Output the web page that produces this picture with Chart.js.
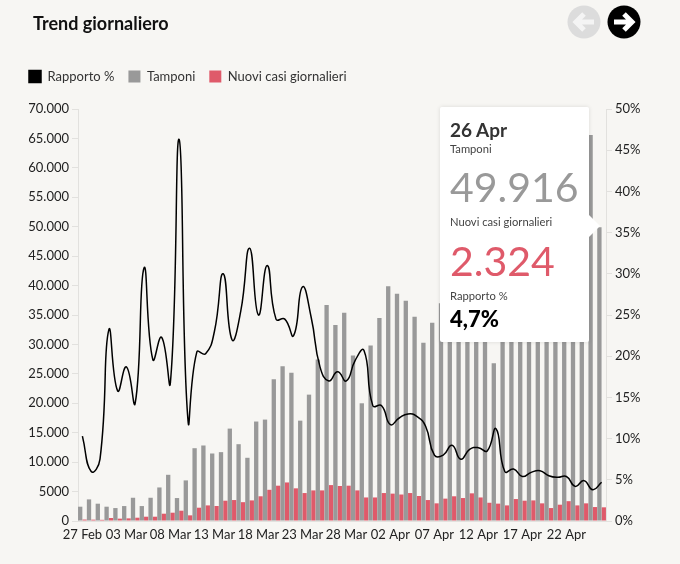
<!DOCTYPE html>
<html lang="it">
<head>
<meta charset="utf-8">
<title>Trend giornaliero</title>
<script src="https://cdn.jsdelivr.net/npm/chart.js@4"></script>
<style>
  html, body { margin: 0; padding: 0; background: #f7f6f3; }
  body { width: 680px; height: 564px; position: relative; overflow: hidden; font-family: Lato, "Noto Sans", sans-serif; color: #222; }
  canvas { position: absolute; left: 0; top: 0; }
  h1 { position: absolute; left: 33px; top: 12px; margin: 0; font-size: 18px; line-height: 22px; font-weight: 700; color: #111; }
  .btn { position: absolute; top: 5px; }
  #tip { position: absolute; left: 440px; top: 107px; width: 149px; height: 235px; background: #fff; border-radius: 2px; box-shadow: 0 0 4px rgba(0,0,0,.12); }
  #tip::after { content: ""; position: absolute; left: 149px; top: 108px; border-left: 11px solid #fff; border-top: 11px solid transparent; border-bottom: 11px solid transparent; }
  #tip div { position: absolute; left: 10px; white-space: nowrap; }
  .small { font-size: 11.2px; line-height: 14px; color: #444; }
</style>
</head>
<body>
<canvas id="chart" width="680" height="564"></canvas>
<h1>Trend giornaliero</h1>
<svg class="btn" style="left:567px" width="34" height="34" viewBox="0 0 34 34">
  <circle cx="17" cy="17" r="16.5" fill="#dcdcdc"/>
  <path d="M27 17H11M17 9l-8 8 8 8" fill="none" stroke="#f4f4f4" stroke-width="5"/>
</svg>
<svg class="btn" style="left:607px" width="34" height="34" viewBox="0 0 34 34">
  <circle cx="17" cy="17" r="16.5" fill="#000"/>
  <path d="M7 17h16M17 9l8 8-8 8" fill="none" stroke="#fff" stroke-width="5"/>
</svg>
<div id="tip">
  <div id="tipDate" style="top:12px;font-size:19px;line-height:22px;font-weight:700;color:#333"></div>
  <div class="small" style="top:35px">Tamponi</div>
  <div id="tipTamponi" style="top:53px;font-size:41px;line-height:54px;font-weight:400;color:#999"></div>
  <div class="small" style="top:108px">Nuovi casi giornalieri</div>
  <div id="tipCasi" style="top:127px;font-size:41px;line-height:54px;font-weight:400;color:#df5a6a"></div>
  <div class="small" style="top:182px">Rapporto %</div>
  <div id="tipRapporto" style="top:199px;font-size:22px;line-height:26px;font-weight:900;color:#000"></div>
</div>
<script>
// date sull'asse x
const dates = ["27 Feb","28 Feb","29 Feb","01 Mar","02 Mar","03 Mar","04 Mar","05 Mar","06 Mar","07 Mar",
  "08 Mar","09 Mar","10 Mar","11 Mar","12 Mar","13 Mar","14 Mar","15 Mar","16 Mar","17 Mar",
  "18 Mar","19 Mar","20 Mar","21 Mar","22 Mar","23 Mar","24 Mar","25 Mar","26 Mar","27 Mar",
  "28 Mar","29 Mar","30 Mar","31 Mar","01 Apr","02 Apr","03 Apr","04 Apr","05 Apr","06 Apr",
  "07 Apr","08 Apr","09 Apr","10 Apr","11 Apr","12 Apr","13 Apr","14 Apr","15 Apr","16 Apr",
  "17 Apr","18 Apr","19 Apr","20 Apr","21 Apr","22 Apr","23 Apr","24 Apr","25 Apr","26 Apr"];

// valori (quelli sotto il riquadro bianco sono stimati)
const tamponi = [2430,3670,2940,2430,2200,2540,3950,2540,3950,5700,
  7850,3900,6900,12370,12830,11470,11700,15700,13050,10740,
  16900,17230,24100,26300,25200,17050,21470,27460,36700,33300,
  35400,28100,20000,29800,34500,39900,38600,37400,34700,30300,
  33700,37000,53000,46000,53500,56600,46700,26800,43700,61000,
  65700,64000,65400,63100,49000,47000,63100,52000,65600,49916];
const nuoviCasi = [250,230,200,510,400,450,560,730,730,1240,
  1410,1750,960,2260,2650,2550,3450,3560,3200,3500,
  4200,5300,6000,6550,5550,4750,5200,5200,6100,5950,
  6000,5200,4000,4000,4750,4650,4500,4750,4250,3560,
  3000,3800,4200,3900,4700,4000,3100,2950,2650,3730,
  3450,3500,3000,2200,2770,3370,2650,3000,2370,2324];
const rapporto = [10.3,6,7.5,23.2,15.8,18.7,14.3,30.7,19.6,22.3,
  16.8,46.3,12.2,20.5,20.3,23,30,22,25.5,33.1,
  25,31,24.5,24.5,22.5,28.4,24.7,18.7,17,18.1,
  17,19.5,20.7,14,14,11.7,12.5,13,12.7,11.5,
  8,8,9.2,7.5,8.7,8.9,8.5,11.2,6,6.3,
  5.4,5.9,6.1,5.5,5.3,5.4,4.2,4.9,3.8,4.7];

const leftTicks = ["0","5000","10.000","15.000","20.000","25.000","30.000","35.000","40.000","45.000","50.000","55.000","60.000","65.000","70.000"];
const rightTicks = ["0%","5%","10%","15%","20%","25%","30%","35%","40%","45%","50%"];

const axisColor = "#e2e1de";
const tickFont = { family: "Lato, 'Noto Sans', sans-serif", size: 13 };

// piu' spazio tra legenda e grafico
const legendGap = {
  id: "legendGap",
  beforeInit(chart) {
    const fit = chart.legend.fit;
    chart.legend.fit = function () {
      fit.call(this);
      this.height += 16;
    };
  }
};

new Chart(document.getElementById("chart"), {
  type: "bar",
  plugins: [legendGap],
  data: {
    labels: dates,
    datasets: [
      { type: "line", label: "Rapporto %", data: rapporto, yAxisID: "y1", borderColor: "#000", backgroundColor: "#000", borderWidth: 1.5, pointRadius: 0, tension: 0.5 },
      { label: "Tamponi", data: tamponi, yAxisID: "y", backgroundColor: "#999999" },
      { label: "Nuovi casi giornalieri", data: nuoviCasi, yAxisID: "y", backgroundColor: "#df5a6a" }
    ]
  },
  options: {
    responsive: false,
    animation: false,
    datasets: { bar: { categoryPercentage: 1, barPercentage: 0.98 } },
    layout: { padding: { top: 56, left: 15, right: 0, bottom: 0 } },
    plugins: {
      tooltip: { enabled: false },
      legend: {
        position: "top",
        align: "start",
        labels: { boxWidth: 12, boxHeight: 12, padding: 14, color: "#333", font: tickFont }
      }
    },
    scales: {
      x: {
        grid: { display: false },
        border: { color: axisColor },
        afterFit: s => { s.height = 43; },
        ticks: {
          autoSkip: false, maxRotation: 0, color: "#222", font: tickFont, padding: -2,
          callback: (v, i) => i % 5 === 0 ? dates[i] : ""
        }
      },
      y: {
        position: "left", min: 0, max: 70000,
        afterFit: s => { s.width = 63; },
        border: { color: axisColor },
        grid: { drawOnChartArea: false, color: axisColor, tickLength: 6 },
        ticks: { stepSize: 5000, color: "#222", font: tickFont, padding: 3, callback: (v, i) => leftTicks[i] }
      },
      y1: {
        position: "right", min: 0, max: 50,
        afterFit: s => { s.width = 74; },
        border: { color: axisColor },
        grid: { drawOnChartArea: false, color: axisColor, tickLength: 6 },
        ticks: { stepSize: 5, color: "#222", font: tickFont, padding: 3, callback: (v, i) => rightTicks[i] }
      }
    }
  }
});

// riquadro del giorno selezionato: ultimo giorno
const last = dates.length - 1;
document.getElementById("tipDate").innerText = dates[last];
document.getElementById("tipTamponi").innerText = tamponi[last].toLocaleString("de-DE");
document.getElementById("tipCasi").innerText = nuoviCasi[last].toLocaleString("de-DE");
document.getElementById("tipRapporto").innerText = rapporto[last].toString().replace(".", ",") + "%";
</script>
</body>
</html>
